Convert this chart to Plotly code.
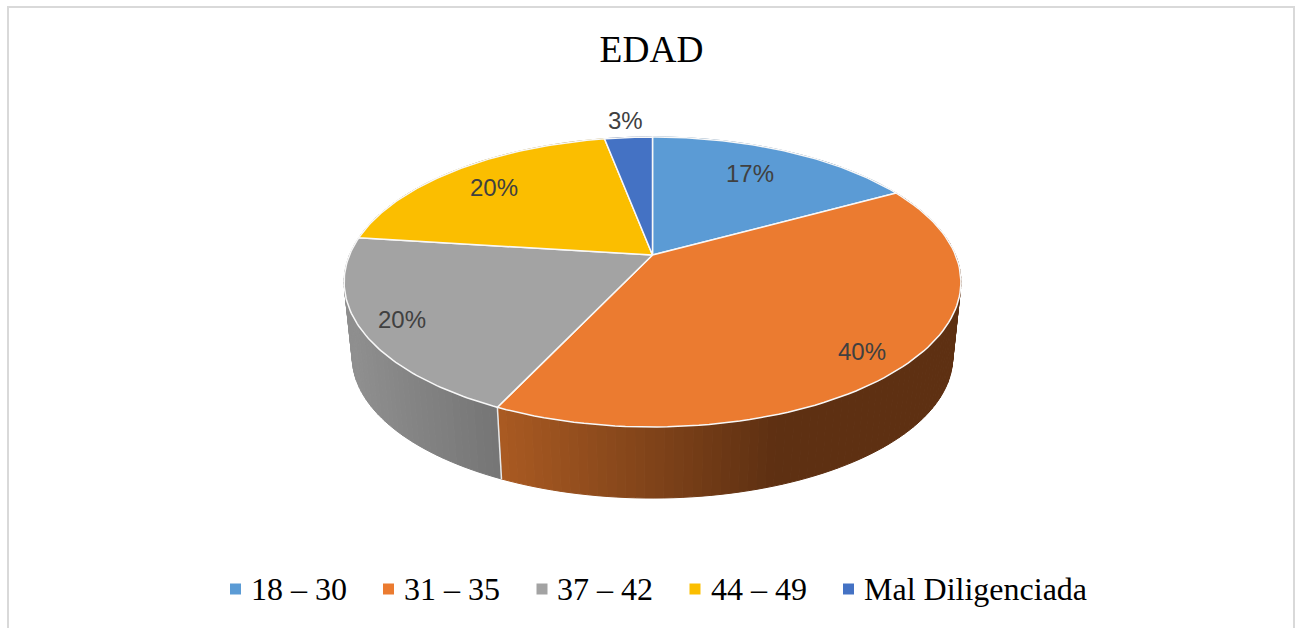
import numpy as np
import plotly.graph_objects as go

TITLE = "EDAD"
CATEGORIES = ["18 – 30", "31 – 35", "37 – 42", "44 – 49", "Mal Diligenciada"]
VALUES = [17, 40, 20, 20, 3]
COLORS = ["#5B9BD5", "#EB7B30", "#A3A3A3", "#FBBE00", "#4472C4"]
# wall shading per slice: colour at left screen x, colour at right screen x
WALL_SHADES = [("#3A6A96", "#3A6A96"), ("#A95A22", "#5E3012"), ("#8F8F8F", "#757575"),
               ("#A07800", "#A07800"), ("#2C4A80", "#2C4A80")]
WALL_X = [(0, 1), (500, 775), (350, 497), (0, 1), (0, 1)]

W, H = 1295, 628
CX, CY, A, B, K = 652.5, 255.0, 303.0, 140.0, 0.186   # perspective disc, top face
A2, B2, CY2 = 295.0, 136.0, 331.0                     # perspective disc, bottom face
LABEL_XY = [(750, 173), (862, 351), (402, 319), (494, 187), (625, 120)]
LEGEND_MARK_X = [235.5, 388.5, 542, 695, 848.5]
LEGEND_TEXT_X = [248.5, 401.5, 555, 708.5, 861.5]
LEGEND_Y = 589


def top(theta, r=1.0):
    u, v = r * np.sin(theta), r * np.cos(theta)
    w = 1 + K * v
    return CX + A * u / w, CY - B * v / w


def bottom(theta):
    u, v = np.sin(theta), np.cos(theta)
    w = 1 + K * v
    return CX + A2 * u / w, CY2 - B2 * v / w


def lerp_hex(c0, c1, t):
    a = [int(c0[i:i + 2], 16) for i in (1, 3, 5)]
    b = [int(c1[i:i + 2], 16) for i in (1, 3, 5)]
    return "rgb(%d,%d,%d)" % tuple(round(p + (q - p) * t) for p, q in zip(a, b))


fracs = np.array(VALUES) / sum(VALUES)
edges = np.concatenate([[0], np.cumsum(fracs)]) * 2 * np.pi

fig = go.Figure()

# side walls
for i in range(len(VALUES)):
    n = max(2, int(np.degrees(edges[i + 1] - edges[i]) / 1.5))
    ts = np.linspace(edges[i], edges[i + 1], n + 1)
    for t0, t1 in zip(ts[:-1], ts[1:]):
        tt = np.linspace(t0, t1, 3)
        xt, yt = top(tt)
        xb, yb = bottom(tt[::-1])
        xm = float(np.mean(xt))
        s = np.clip((xm - WALL_X[i][0]) / (WALL_X[i][1] - WALL_X[i][0]), 0, 1)
        col = lerp_hex(WALL_SHADES[i][0], WALL_SHADES[i][1], s)
        fig.add_trace(go.Scatter(
            x=np.r_[xt, xb, xt[0]], y=np.r_[yt, yb, yt[0]], mode="lines", fill="toself",
            fillcolor=col, line=dict(color=col, width=1), showlegend=False,
            hoverinfo="skip"))

# white divider on the visible front wall
for i in range(1, len(VALUES)):
    x0, y0 = top(edges[i])
    x1, y1 = bottom(edges[i])
    if np.cos(edges[i]) < 0 and y1 > y0 and abs(x0 - CX) < 200:
        fig.add_trace(go.Scatter(x=[x0, x1], y=[y0, y1], mode="lines",
                                 line=dict(color="#E8E8E8", width=1.5),
                                 showlegend=False, hoverinfo="skip"))

# top faces
for i in range(len(VALUES)):
    tt = np.linspace(edges[i], edges[i + 1], 90)
    xa, ya = top(tt)
    fig.add_trace(go.Scatter(
        x=np.r_[CX, xa, CX], y=np.r_[CY, ya, CY], mode="lines", fill="toself",
        fillcolor=COLORS[i], line=dict(color="#F8F8F8", width=1.5), showlegend=False,
        name=CATEGORIES[i], text=[f"{VALUES[i]}%"] * 92, hoverinfo="name+text"))

# legend swatches
fig.add_trace(go.Scatter(x=LEGEND_MARK_X, y=[LEGEND_Y] * len(CATEGORIES), mode="markers",
                         marker=dict(symbol="square", size=11, color=COLORS),
                         showlegend=False, hoverinfo="skip"))

annotations = [dict(x=x, y=y, xref="x", yref="y", text=f"{v}%", showarrow=False,
                    font=dict(family="Liberation Sans", size=24, color="#404040"))
               for v, (x, y) in zip(VALUES, LABEL_XY)]
annotations += [dict(x=x, y=LEGEND_Y, xref="x", yref="y", text=c, showarrow=False,
                     xanchor="left", yanchor="middle",
                     font=dict(family="Liberation Serif", size=32, color="#000000"))
                for c, x in zip(CATEGORIES, LEGEND_TEXT_X)]

fig.update_layout(
    width=W, height=H, autosize=False, margin=dict(l=0, r=0, t=0, b=0),
    paper_bgcolor="white", plot_bgcolor="white", showlegend=False,
    xaxis=dict(range=[0, W], visible=False, fixedrange=True),
    yaxis=dict(range=[H, 0], visible=False, fixedrange=True),
    title=dict(text=TITLE, x=651.5 / W, xanchor="center", y=1 - 49 / H, yanchor="middle",
               font=dict(family="Liberation Serif", size=37.4, color="#000000")),
    annotations=annotations,
    shapes=[dict(type="path", path=f"M 8 {H} L 8 7 L 1294 7 L 1294 {H}", xref="x", yref="y",
                 line=dict(color="#D9D9D9", width=2), layer="below")],
)

fig.write_html("out.html", config={"displayModeBar": False},
               post_script="document.body.style.margin='0';document.documentElement.style.overflow='hidden';")
